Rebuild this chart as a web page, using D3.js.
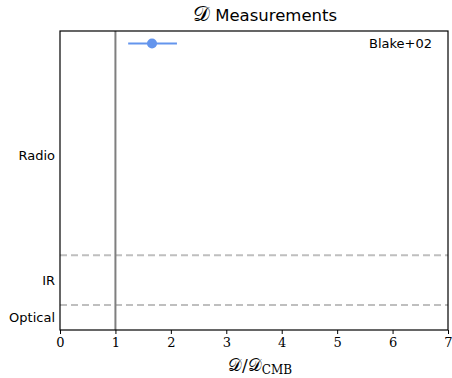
<!DOCTYPE html>
<html><head><meta charset="utf-8">
<script src="https://cdn.jsdelivr.net/npm/d3@7"></script>
<style>body{margin:0;background:#fff}svg{display:block}</style>
</head><body><svg id="c" width="452" height="378"></svg>
<script>
const names = ["Blake+02"];
const values = [1.66];
const errLow = [0.43];
const errHigh = [0.45];
const rows = [11.5];
const xTicks = [0,1,2,3,4,5,6,7];
const bandLabels = ["Optical","IR","Radio"];
const bandPos = [0.5, 2, 7];
const dividers = [1, 3];
const refValue = 1;

const svg = d3.select("#c");
const m = {l:60, r:448, t:31, b:330};
const x = d3.scaleLinear().domain([0,7]).range([m.l, m.r]);
const y = d3.scaleLinear().domain([0,12]).range([m.b, m.t]);
const serif = "'DejaVu Serif','Liberation Serif',serif";
const sans = "'DejaVu Sans','Open Sans',sans-serif";

// dividers
svg.selectAll("line.div").data(dividers).enter().append("line")
  .attr("x1", m.l).attr("x2", m.r).attr("y1", d=>y(d)).attr("y2", d=>y(d))
  .attr("stroke", "#bfbfbf").attr("stroke-width", 2).attr("stroke-dasharray", "7,4");

// reference line
svg.append("line").attr("x1", x(refValue)).attr("x2", x(refValue))
  .attr("y1", m.t).attr("y2", m.b).attr("stroke", "#7f7f7f").attr("stroke-width", 2);

// error bars
svg.selectAll("line.err").data(values).enter().append("line")
  .attr("x1", (d,i)=>x(d-errLow[i])).attr("x2", (d,i)=>x(d+errHigh[i]))
  .attr("y1", (d,i)=>y(rows[i])).attr("y2", (d,i)=>y(rows[i]))
  .attr("stroke", "#6495ED").attr("stroke-width", 2);
svg.selectAll("circle.pt").data(values).enter().append("circle")
  .attr("cx", d=>x(d)).attr("cy", (d,i)=>y(rows[i])).attr("r", 5)
  .attr("fill", "#6495ED");
svg.selectAll("text.nm").data(names).enter().append("text")
  .attr("x", x(7)-16).attr("y", (d,i)=>y(rows[i])+4.5).attr("text-anchor","end")
  .attr("font-family", sans).attr("font-size", 13).attr("fill","#000").text(d=>d);

// frame
svg.append("rect").attr("x", m.l).attr("y", m.t).attr("width", m.r-m.l).attr("height", m.b-m.t)
  .attr("fill","none").attr("stroke","#000").attr("stroke-width",1.2);

// x axis
const xa = svg.append("g").attr("transform", `translate(0,${m.b})`)
  .call(d3.axisBottom(x).tickValues(xTicks).tickSize(4).tickPadding(4).tickFormat(d3.format("d")));
xa.select(".domain").remove();
xa.selectAll("text").attr("font-family", serif).attr("font-size", 13).attr("fill","#000");
xa.selectAll("line").attr("stroke","#000");

// y labels
const ya = svg.append("g").attr("transform", `translate(${m.l},0)`)
  .call(d3.axisLeft(y).tickValues(bandPos).tickSize(0).tickPadding(5).tickFormat((d,i)=>bandLabels[i]));
ya.select(".domain").remove();
ya.selectAll("text").attr("font-family", sans).attr("font-size", 13).attr("fill","#000");

// title
const t = svg.append("text").attr("x", (m.l+m.r)/2 + 11).attr("y", 21).attr("text-anchor","middle")
  .attr("font-family", sans).attr("font-size", 16.5).attr("fill","#000");
t.append("tspan").attr("font-size", 21).text("\u{1D49F}");
t.append("tspan").text(" Measurements");

// x label
const xl = svg.append("text").attr("x", (m.l+m.r)/2 + 6).attr("y", 371).attr("text-anchor","middle")
  .attr("font-family", serif).attr("font-size", 17).attr("fill","#000");
xl.append("tspan").text("\u{1D49F}/\u{1D49F}");
xl.append("tspan").attr("font-size", 12).attr("dy", 3).text("CMB");
</script></body></html>
